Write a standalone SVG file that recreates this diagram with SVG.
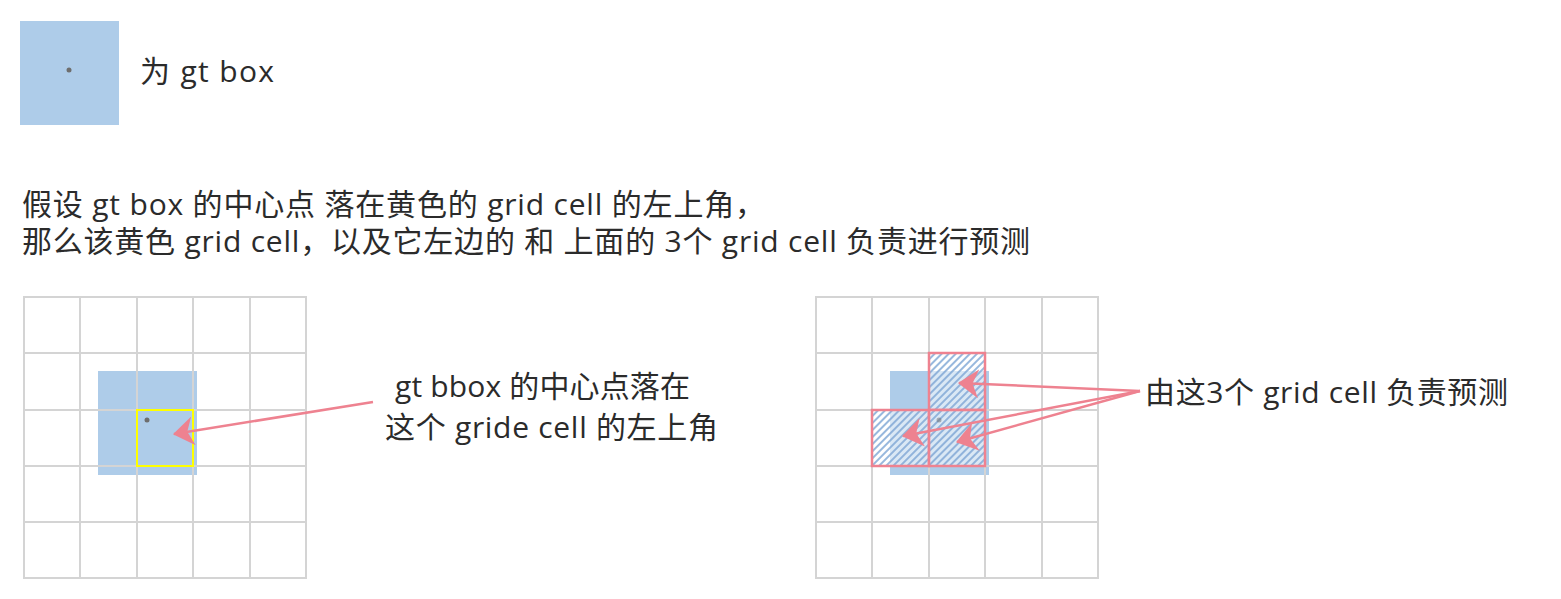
<svg xmlns="http://www.w3.org/2000/svg" width="1561" height="599" viewBox="0 0 1561 599">
<style>
text{font-family:"Open Sans","Noto Sans CJK SC",sans-serif;fill:#2b2b2b;font-size:30px}
.gt{fill:#aecce9}
.dot{fill:#6e6e6e}
.arrow{stroke:#ee8290;stroke-width:2.5;fill:none}
.cell{stroke:#ee8290;stroke-width:2.5}
</style>
<defs>
<marker id="ah" markerUnits="userSpaceOnUse" viewBox="0 0 20 28" markerWidth="21" markerHeight="29" refX="19" refY="14" orient="auto">
<path d="M0,0 L20,14 L0,28 L6,14 z" fill="#ee8290"/>
</marker>
<pattern id="hatch" patternUnits="userSpaceOnUse" width="5" height="5" patternTransform="rotate(45)">
<rect width="5" height="5" fill="#ffffff" fill-opacity="0.55"/>
<rect width="2" height="5" fill="#7ea6d4" fill-opacity="0.8"/>
</pattern>
<g id="grid5" stroke="#d4d4d4" stroke-width="2">
<line x1="23" y1="297" x2="307" y2="297"/>
<line x1="23" y1="353" x2="307" y2="353"/>
<line x1="23" y1="410" x2="307" y2="410"/>
<line x1="23" y1="466" x2="307" y2="466"/>
<line x1="23" y1="522" x2="307" y2="522"/>
<line x1="23" y1="578" x2="307" y2="578"/>
<line x1="24" y1="297" x2="24" y2="578"/>
<line x1="80" y1="297" x2="80" y2="578"/>
<line x1="137" y1="297" x2="137" y2="578"/>
<line x1="193" y1="297" x2="193" y2="578"/>
<line x1="250" y1="297" x2="250" y2="578"/>
<line x1="306" y1="297" x2="306" y2="578"/>
</g>
</defs>

<g id="legend">
<rect class="gt" x="20" y="21" width="99" height="104"/>
<circle class="dot" cx="69" cy="70" r="2.5"/>
<text x="140" y="82" textLength="134" lengthAdjust="spacing">为 gt box</text>
</g>

<g id="description">
<text x="22" y="215" textLength="743" lengthAdjust="spacing">假设 gt box 的中心点 落在黄色的 grid cell 的左上角，</text>
<text x="22" y="252" textLength="1008" lengthAdjust="spacing">那么该黄色 grid cell，以及它左边的 和 上面的 3个 grid cell 负责进行预测</text>
</g>

<g id="left-grid">
<rect class="gt" x="98" y="371" width="99" height="104"/>
<use href="#grid5"/>
<rect x="137" y="410" width="56" height="56" fill="none" stroke="#ffff00" stroke-width="2"/>
<circle class="dot" cx="147" cy="420" r="2.5"/>
</g>

<g id="left-label">
<text x="395" y="397" textLength="295" lengthAdjust="spacing">gt bbox 的中心点落在</text>
<text x="385" y="438" textLength="333" lengthAdjust="spacing">这个 gride cell 的左上角</text>
</g>

<g id="right-grid">
<rect class="gt" x="890" y="371" width="99" height="104"/>
<use href="#grid5" transform="translate(792,0)"/>
<rect class="cell" x="929" y="353" width="56" height="57" fill="url(#hatch)"/>
<rect class="cell" x="872" y="410" width="57" height="56" fill="url(#hatch)"/>
<rect class="cell" x="929" y="410" width="56" height="56" fill="url(#hatch)"/>
<circle class="dot" cx="939" cy="420" r="2.5" fill-opacity="0.5"/>
</g>

<g id="right-label">
<text x="1145" y="403" textLength="363" lengthAdjust="spacing">由这3个 grid cell 负责预测</text>
</g>

<g id="connectors">
<line class="arrow" x1="373" y1="402" x2="174" y2="434" marker-end="url(#ah)"/>
<line class="arrow" x1="1140" y1="391" x2="959" y2="383" marker-end="url(#ah)"/>
<line class="arrow" x1="1140" y1="391" x2="903" y2="436" marker-end="url(#ah)"/>
<line class="arrow" x1="1140" y1="391" x2="957" y2="442" marker-end="url(#ah)"/>
</g>
</svg>
